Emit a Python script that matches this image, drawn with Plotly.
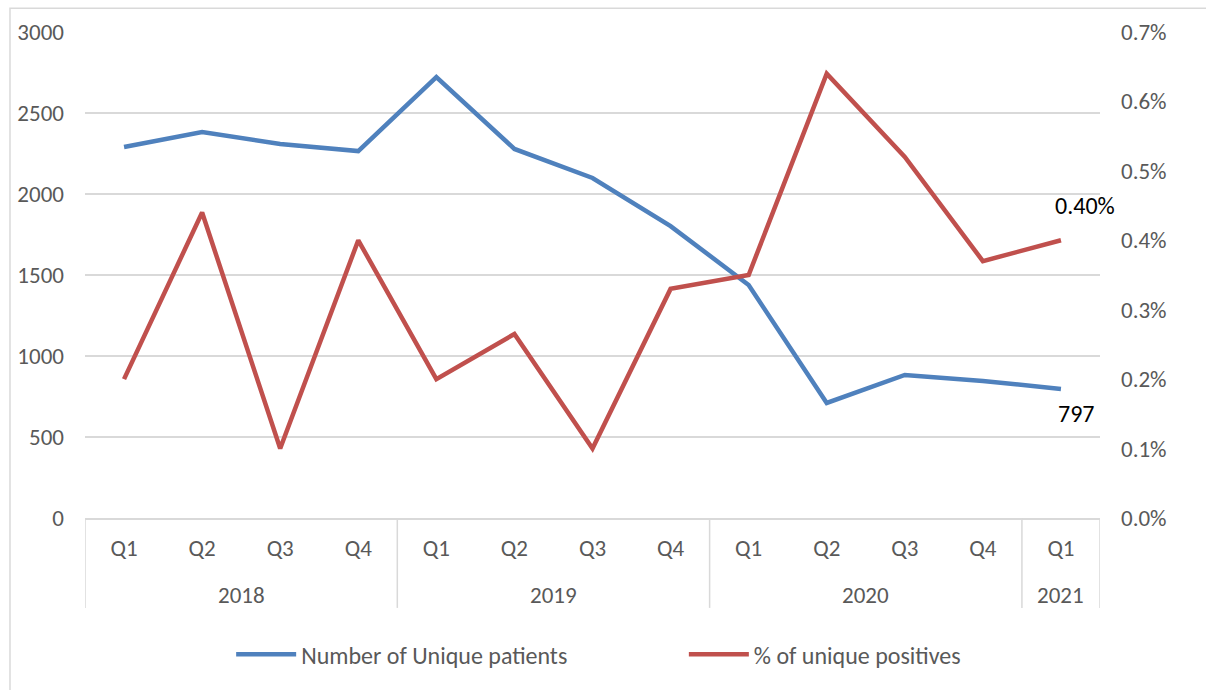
import plotly.graph_objects as go

# Quarterly series
years = ["2018"] * 4 + ["2019"] * 4 + ["2020"] * 4 + ["2021"]
quarters = ["Q1", "Q2", "Q3", "Q4"] * 3 + ["Q1"]

unique_patients = [2290, 2383, 2309, 2265, 2722, 2278, 2099, 1802, 1438, 710, 883, 846, 797]
pct_positive = [0.0020, 0.0044, 0.0010, 0.0040, 0.0020, 0.00265, 0.0010, 0.0033,
                0.0035, 0.0064, 0.0052, 0.0037, 0.0040]

left_ticks = [0, 500, 1000, 1500, 2000, 2500, 3000]
right_ticks = [0.0, 0.001, 0.002, 0.003, 0.004, 0.005, 0.006, 0.007]

BLUE = "#4F81BD"
RED = "#C0504D"
GRID = "#D9D9D9"
TICK = "#595959"
FONT = "Calibri, Carlito, Lato, sans-serif"
TICK_SIZE = 23

# unique category keys, displayed as quarter labels
cats = [f"{y} {q}" for y, q in zip(years, quarters)]
n = len(cats)

fig = go.Figure()
fig.add_trace(go.Scatter(
    x=cats, y=unique_patients, name="Number of Unique patients", mode="lines",
    line=dict(color=BLUE, width=4.5), yaxis="y", legend="legend",
))
fig.add_trace(go.Scatter(
    x=cats, y=pct_positive, name="% of unique positives", mode="lines",
    line=dict(color=RED, width=4.5), yaxis="y2", legend="legend2",
))

# year groups: centre label and boundary dividers
groups = []
for i, y in enumerate(years):
    if not groups or groups[-1][0] != y:
        groups.append([y, i, i])
    else:
        groups[-1][2] = i

annotations = []
shapes = [dict(type="rect", xref="paper", yref="paper", x0=-0.0739, x1=1.2, y0=-0.5, y1=1.049,
               line=dict(color=GRID, width=1.5), fillcolor="rgba(0,0,0,0)", layer="below")]
for label, start, end in groups:
    annotations.append(dict(
        text=label, xref="x", yref="paper", x=(start + end) / 2, y=-0.158,
        xanchor="center", yanchor="middle", showarrow=False,
        font=dict(size=TICK_SIZE, color=TICK, family=FONT),
    ))
    shapes.append(dict(type="line", xref="x", yref="paper", x0=start - 0.5, x1=start - 0.5,
                       y0=0, y1=-0.185, line=dict(color=GRID, width=1.5)))
shapes.append(dict(type="line", xref="x", yref="paper", x0=n - 0.5, x1=n - 0.5,
                   y0=0, y1=-0.185, line=dict(color=GRID, width=1.5)))

# value labels on the latest quarter
annotations.append(dict(
    text=f"{pct_positive[-1]:.2%}", xref="x", yref="y2", x=cats[-1], y=pct_positive[-1],
    xshift=24, yshift=35, showarrow=False, font=dict(size=24, color="black", family=FONT),
))
annotations.append(dict(
    text=f"{unique_patients[-1]}", xref="x", yref="y", x=cats[-1], y=unique_patients[-1],
    xshift=16, yshift=-25, showarrow=False, font=dict(size=24, color="black", family=FONT),
))

legend_style = dict(orientation="h", xanchor="left", y=-0.235, yanchor="top",
                    font=dict(size=24, color=TICK), itemwidth=60, bgcolor="rgba(0,0,0,0)")

fig.update_layout(
    width=1206, height=690,
    margin=dict(l=85, r=106, t=32, b=172),
    paper_bgcolor="white", plot_bgcolor="white",
    font=dict(family=FONT, size=TICK_SIZE, color=TICK),
    showlegend=True,
    legend=dict(x=0.144, **legend_style),
    legend2=dict(x=0.590, **legend_style),
    xaxis=dict(
        type="category", range=[-0.5, n - 0.5], tickvals=cats, ticktext=quarters,
        showgrid=False, zeroline=False, showline=True, linecolor=GRID, linewidth=1.5,
        ticks="", ticklabelstandoff=9, tickfont=dict(size=TICK_SIZE, color=TICK),
    ),
    yaxis=dict(
        range=[0, 3000], tickvals=left_ticks, showgrid=True, gridcolor=GRID, gridwidth=1.5,
        zeroline=False, showline=False, ticks="", ticklabelstandoff=20,
        tickfont=dict(size=TICK_SIZE, color=TICK),
    ),
    yaxis2=dict(
        range=[0, 0.007], tickvals=right_ticks, tickformat=".1%", overlaying="y", side="right",
        showgrid=False, zeroline=False, showline=False, ticks="", ticklabelstandoff=20,
        tickfont=dict(size=TICK_SIZE, color=TICK),
    ),
    shapes=shapes,
    annotations=annotations,
)

fig.write_html("out.html")
